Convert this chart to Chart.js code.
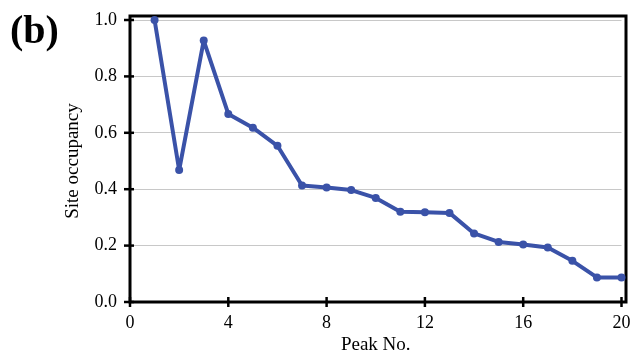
<!DOCTYPE html>
<html>
<head>
<meta charset="utf-8">
<script src="https://cdn.jsdelivr.net/npm/chart.js@4"></script>
<style>
html,body{margin:0;padding:0;background:#fff;}
#wrap{width:630px;height:361px;position:relative;}
</style>
</head>
<body>
<div id="wrap"><canvas id="c" width="630" height="361"></canvas></div>
<script>
const peakNo = [1,2,3,4,5,6,7,8,9,10,11,12,13,14,15,16,17,18,19,20];
const occupancy = [1.0,0.468,0.927,0.667,0.618,0.554,0.413,0.406,0.397,0.369,0.320,0.318,0.316,0.243,0.213,0.204,0.193,0.146,0.087,0.087];
const xTicks = [0,4,8,12,16,20];
const yTicks = [0.0,0.2,0.4,0.6,0.8,1.0];
const panelLabel = '(b)';
const xTitle = 'Peak No.';
const yTitle = 'Site occupancy';

const points = peakNo.map((p,i)=>({x:p,y:occupancy[i]}));
const SERIF = '"Liberation Serif","Times New Roman",serif';

const framePlugin = {
  id:'frame',
  beforeDatasetsDraw(chart){
    const ctx = chart.ctx;
    const xs = chart.scales.x, ys = chart.scales.y;
    const L = xs.getPixelForValue(0), R = xs.getPixelForValue(20) + 4.5;
    const B = ys.getPixelForValue(0), T = ys.getPixelForValue(1) - 4;
    ctx.save();
    ctx.strokeStyle = '#000';
    ctx.lineWidth = 3;
    ctx.lineCap = 'square';
    ctx.beginPath();
    ctx.moveTo(L, T); ctx.lineTo(R, T); ctx.lineTo(R, B); ctx.lineTo(L, B); ctx.closePath();
    ctx.stroke();
    ctx.lineCap = 'butt';
    ctx.lineWidth = 2.5;
    xTicks.forEach(v=>{
      const px = xs.getPixelForValue(v);
      ctx.beginPath(); ctx.moveTo(px, B-5); ctx.lineTo(px, B+5); ctx.stroke();
    });
    yTicks.forEach(v=>{
      const py = ys.getPixelForValue(v);
      ctx.beginPath(); ctx.moveTo(L-6, py); ctx.lineTo(L+4, py); ctx.stroke();
    });
    ctx.fillStyle = '#000';
    ctx.font = 'bold 40px ' + SERIF;
    ctx.textBaseline = 'alphabetic';
    ctx.textAlign = 'left';
    ctx.fillText(panelLabel, 10, 43);
    ctx.restore();
  }
};

new Chart(document.getElementById('c'), {
  type:'line',
  data:{datasets:[{
    data:points,
    borderColor:'#3a52a8',
    backgroundColor:'#3a52a8',
    borderWidth:4,
    borderJoinStyle:'round',
    borderCapStyle:'round',
    pointRadius:4,
    pointBorderWidth:0,
    tension:0,
    clip:false
  }]},
  options:{
    responsive:false,
    animation:false,
    layout:{padding:{top:20,right:8.5,left:0,bottom:0}},
    plugins:{legend:{display:false},tooltip:{enabled:false}},
    scales:{
      x:{
        type:'linear', min:0, max:20,
        afterBuildTicks(s){ s.ticks = xTicks.map(v=>({value:v})); },
        afterFit(s){ s.height = 59; s.paddingLeft = 0; s.paddingRight = 0; },
        grid:{display:false, drawTicks:false},
        border:{display:false},
        ticks:{color:'#000', padding:10, font:{family:SERIF,size:18}, callback:v=>String(v)},
        title:{display:true, text:xTitle, color:'#000', font:{family:SERIF,size:19}, padding:{top:0,bottom:5}}
      },
      y:{
        min:0, max:1,
        afterBuildTicks(s){ s.ticks = yTicks.map(v=>({value:v})); },
        afterFit(s){ s.width = 130; s.paddingTop = 0; s.paddingBottom = 0; },
        grid:{color:'#c8c8c8', lineWidth:1, drawTicks:false},
        border:{display:false},
        ticks:{color:'#000', padding:13, font:{family:SERIF,size:18}, callback:v=>Number(v).toFixed(1)},
        title:{display:true, text:yTitle, color:'#000', font:{family:SERIF,size:19}, padding:{top:62,bottom:0}}
      }
    }
  },
  plugins:[framePlugin]
});
</script>
</body>
</html>
